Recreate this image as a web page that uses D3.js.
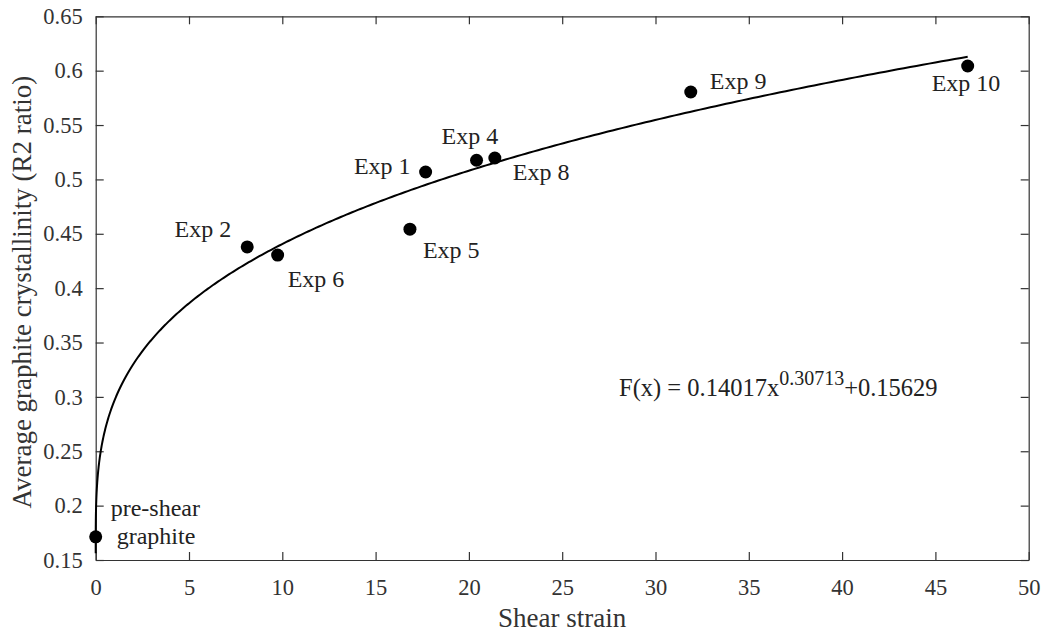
<!DOCTYPE html>
<html>
<head>
<meta charset="utf-8">
<script src="https://cdn.jsdelivr.net/npm/d3@7"></script>
<style>
  html, body { margin: 0; padding: 0; background: #fff; }
  svg { display: block; font-family: "Liberation Serif", "Times New Roman", serif; }
</style>
</head>
<body>
<svg id="chart" width="1044" height="634"></svg>
<script>
// ---- data ----
const labels = ["pre-shear graphite", "Exp 2", "Exp 6", "Exp 1", "Exp 4", "Exp 8", "Exp 5", "Exp 9", "Exp 10"];
const shearStrain = [0, 8.12, 9.75, 17.68, 20.41, 21.39, 16.84, 31.89, 46.73];
const crystallinity = [0.1713, 0.4379, 0.4304, 0.5068, 0.5176, 0.5197, 0.4542, 0.5804, 0.6043];
// fitted power law F(x) = a*x^b + c (as printed on the chart)
const fitCoefficients = [0.14017, 0.30713, 0.15629];
const xTicks = [0, 5, 10, 15, 20, 25, 30, 35, 40, 45, 50];
const yTicks = [0.15, 0.2, 0.25, 0.3, 0.35, 0.4, 0.45, 0.5, 0.55, 0.6, 0.65];
const yTickLabels = ["0.15", "0.2", "0.25", "0.3", "0.35", "0.4", "0.45", "0.5", "0.55", "0.6", "0.65"];

// ---- layout ----
const W = 1044, H = 634;
const m = { left: 95.7, right: 15.3, top: 16.3, bottom: 74 };
const svg = d3.select("#chart");
const x = d3.scaleLinear().domain([0, 50]).range([m.left, W - m.right]);
const y = d3.scaleLinear().domain([0.15, 0.65]).range([H - m.bottom, m.top]);
const axisColor = "#333";
const tickLen = 8;

// label offsets (pixels, relative to point)
const labelOffsets = [
  null,
  { dx: -16, dy: -10, anchor: "end" },
  { dx: 10, dy: 32, anchor: "start" },
  { dx: -15, dy: 2, anchor: "end" },
  { dx: -35, dy: -16, anchor: "start" },
  { dx: 18, dy: 22, anchor: "start" },
  { dx: 13, dy: 29, anchor: "start" },
  { dx: 19, dy: -3, anchor: "start" },
  { dx: -36, dy: 25, anchor: "start" }
];

// ---- axes (box with inward ticks) ----
function styleAxis(g) {
  g.selectAll("path").attr("stroke", axisColor).attr("stroke-width", 1.2);
  g.selectAll("line").attr("stroke", axisColor).attr("stroke-width", 1.2);
  g.selectAll("text").attr("fill", "#333").style("font-family", "Liberation Serif, serif");
}
const xB = svg.append("g").attr("transform", `translate(0,${H - m.bottom})`)
  .call(d3.axisBottom(x).tickValues(xTicks).tickFormat(d3.format("d")).tickSizeInner(-tickLen).tickSizeOuter(0).tickPadding(19));
xB.selectAll("text").attr("font-size", 22.5);
styleAxis(xB);
const xT = svg.append("g").attr("transform", `translate(0,${m.top})`)
  .call(d3.axisTop(x).tickValues(xTicks).tickFormat("").tickSizeInner(-tickLen).tickSizeOuter(0));
styleAxis(xT);
const yL = svg.append("g").attr("transform", `translate(${m.left},0)`)
  .call(d3.axisLeft(y).tickValues(yTicks).tickFormat((d, i) => yTickLabels[i]).tickSizeInner(-tickLen).tickSizeOuter(0).tickPadding(13));
yL.selectAll("text").attr("font-size", 22.5);
styleAxis(yL);
const yR = svg.append("g").attr("transform", `translate(${W - m.right},0)`)
  .call(d3.axisRight(y).tickValues(yTicks).tickFormat("").tickSizeInner(-tickLen).tickSizeOuter(0));
styleAxis(yR);

// axis titles
svg.append("text").attr("x", (m.left + W - m.right) / 2).attr("y", 627)
  .attr("text-anchor", "middle").attr("font-size", 27).attr("fill", "#333").text("Shear strain");
svg.append("text").attr("transform", `translate(31,${(m.top + H - m.bottom) / 2 + 4}) rotate(-90)`)
  .attr("text-anchor", "middle").attr("font-size", 27).attr("fill", "#333").text("Average graphite crystallinity (R2 ratio)");

// ---- fitted curve ----
const [a, b, c] = fitCoefficients;
const xMax = d3.max(shearStrain);
const fitX = d3.range(0, 400 + 1).map(i => xMax * Math.pow(i / 400, 3));
const line = d3.line().x(d => x(d)).y(d => y(a * Math.pow(d, b) + c));
svg.append("path").datum(fitX).attr("d", line)
  .attr("fill", "none").attr("stroke", "#000").attr("stroke-width", 2);

// ---- points ----
const pts = shearStrain.map((v, i) => ({ x: v, y: crystallinity[i], label: labels[i], off: labelOffsets[i] }));
svg.append("g").selectAll("circle").data(pts).join("circle")
  .attr("cx", d => x(d.x)).attr("cy", d => y(d.y)).attr("r", 6.5).attr("fill", "#000");

// ---- labels ----
const lg = svg.append("g").attr("font-size", 24).attr("fill", "#222");
pts.forEach((d, i) => {
  const px = x(d.x), py = y(d.y);
  if (i === 0) {
    lg.append("text").attr("x", px + 15).attr("y", py - 21).text("pre-shear");
    lg.append("text").attr("x", px + 21).attr("y", py + 7).text("graphite");
  } else {
    lg.append("text").attr("x", px + d.off.dx).attr("y", py + d.off.dy)
      .attr("text-anchor", d.off.anchor).text(d.label);
  }
});

// ---- formula ----
const f = svg.append("text").attr("x", 619).attr("y", 396).attr("font-size", 24.5).attr("fill", "#222");
f.append("tspan").text("F(x) = " + a + "x");
f.append("tspan").attr("font-size", 20).attr("dy", -11).text(String(b));
f.append("tspan").attr("dy", 11).text("+" + c);
</script>
</body>
</html>
